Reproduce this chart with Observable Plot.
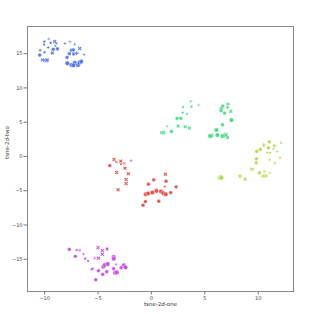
<!DOCTYPE html>
<html>
<head>
<meta charset="utf-8">
<script src="https://cdn.jsdelivr.net/npm/d3@7"></script>
<script src="https://cdn.jsdelivr.net/npm/@observablehq/plot@0.6"></script>
<style>
  html, body { margin: 0; padding: 0; background: #fff; }
</style>
</head>
<body>
<div id="chart"></div>
<script>
// ---- data ----
const groups = ["b", "g", "y", "r", "p"];
const groupColors = ["#5a7ade", "#54d98a", "#b6da55", "#dc5a55", "#c457dc"];

const blueOne = [-10.46,-10.2,-10.02,-9.83,-9.74,-10.02,-10.05,-9.61,-9.43,-9.05,-8.9,-10.42,-10.0,-9.66,-9.27,-9.2,-9.0,-8.8,-8.1,-7.62,-7.18,-7.49,-7.3,-7.68,-7.27,-6.71,-6.3,-7.9,-7.87,-7.49,-7.18,-7.3,-6.87,-6.74,-6.58,-7.0];
const blueTwo = [14.79,14.08,14.08,13.98,14.08,16.76,16.33,17.15,16.57,16.76,16.52,15.5,15.2,15.9,15.1,15.64,16.13,15.7,16.47,16.72,16.37,15.5,15.55,15.0,14.96,15.74,14.86,14.47,13.6,13.35,13.65,13.3,13.35,13.69,13.84,15.06];
const blueSize = [2,2,2,2,2,1,1,1,1,2,1,1,1,1,2,2,1,2,1,1,1,2,2,2,2,2,1,2,3,3,3,3,3,3,3,2];
const blueStyle = "oXXXXooPoXooooXoPoPPPooooXPooooooooP";

const greenOne = [3.68,3.75,4.43,2.96,2.93,3.31,2.4,2.75,1.47,2.5,3.15,3.56,1.87,0.97,1.15,6.68,7.18,6.55,7.12,7.43,6.84,6.52,7.49,6.65,6.09,5.62,6.18,6.65,6.96,7.12,5.49];
const greenTwo = [8.04,7.26,7.5,7.21,6.38,6.19,5.56,5.56,4.39,4.43,4.34,4.14,3.65,3.46,3.46,7.36,7.65,7.02,7.16,6.58,6.33,6.68,5.31,4.63,3.85,3.02,3.12,2.97,3.12,2.78,2.97];
const greenSize = [1,1,1,1,1,1,2,2,1,2,2,2,2,2,2,2,2,2,2,2,2,2,3,2,3,3,3,3,3,2,3];
const greenStyle = "PoPooXooPXXXoXXoPoPXooooooooXoo";

const yellowOne = [11.05,11.52,12.15,10.52,10.2,10.96,11.43,9.86,10.86,11.11,11.77,9.83,9.8,11.05,12.05,11.55,11.08,10.58,10.11,9.52,9.39,10.46,10.71,8.3,8.77,6.4,6.49,6.55];
const yellowTwo = [2.14,1.56,2.0,1.66,1.02,1.27,1.12,0.73,0.58,0.54,0.73,-0.34,-0.93,-0.49,-0.19,-0.97,-2.39,-2.19,-2.39,-1.85,-1.85,-2.83,-2.83,-2.88,-3.31,-3.12,-3.02,-3.12];
const yellowSize = [2,2,1,2,2,2,1,2,1,1,1,2,2,1,1,1,1,1,2,1,2,2,2,2,2,3,3,3];
const yellowStyle = "oPXPooPoPoPooPXXPXoXXXXXXooo";

const redOne = [-3.5,-3.28,-2.87,-2.53,-1.9,-3.9,-2.84,-2.47,-2.15,-3.25,-2.37,-2.37,-3.12,1.31,0.22,-0.28,1.37,1.25,2.31,-0.53,-0.31,0.09,0.47,0.9,1.12,1.34,1.81,-0.56,0.69,-0.78];
const redTwo = [-0.44,-0.83,-0.68,-1.02,-0.63,-1.32,-1.12,-1.71,-2.53,-2.34,-3.36,-3.95,-4.87,-2.58,-3.41,-4.04,-3.61,-4.39,-4.43,-5.51,-5.41,-5.26,-5.02,-5.12,-5.36,-5.51,-5.26,-6.58,-6.53,-7.11];
const redSize = [2,1,2,1,1,2,1,2,2,2,2,2,2,2,2,2,2,1,2,3,3,3,3,3,3,3,2,2,2,2];
const redStyle = "XXXXPoXXXXXXXXoooPoooooooooooo";

const purpleOne = [-7.68,-6.99,-6.71,-7.12,-6.37,-6.21,-5.93,-5.31,-5.0,-4.59,-4.59,-4.15,-4.96,-3.53,-3.53,-3.31,-5.49,-5.59,-4.96,-4.49,-4.37,-4.09,-3.53,-3.4,-3.25,-2.84,-2.59,-2.43,-4.18,-4.56,-5.21];
const purpleTwo = [-13.55,-13.65,-13.69,-14.57,-14.23,-14.91,-15.25,-14.86,-13.3,-13.74,-14.28,-13.5,-14.86,-14.67,-14.91,-15.74,-16.37,-16.47,-16.67,-16.08,-15.84,-15.69,-16.37,-16.96,-16.91,-16.23,-15.89,-16.18,-16.81,-17.2,-17.98];
const purpleSize = [2,1,1,2,1,1,1,1,2,2,2,2,2,3,3,1,1,1,2,3,3,3,2,3,3,2,3,3,2,2,2];
const purpleStyle = "ooXoPooPXXXXXooPoooooooooooooooP";

const xTicks = [-10, -5, 0, 5, 10];
const yTicks = [-15, -10, -5, 0, 5, 10, 15];

// ---- build table ----
const rows = [];
function add(group, one, two, size, style) {
  one.forEach((v, i) => rows.push({group, one: v, two: two[i], size: size[i], style: style[i]}));
}
add("b", blueOne, blueTwo, blueSize, blueStyle);
add("g", greenOne, greenTwo, greenSize, greenStyle);
add("y", yellowOne, yellowTwo, yellowSize, yellowStyle);
add("r", redOne, redTwo, redSize, redStyle);
add("p", purpleOne, purpleTwo, purpleSize, purpleStyle);

// filled X marker (seaborn "X")
const xFilled = {
  draw(ctx, size) {
    const r = Math.sqrt(size / Math.PI) * 1.15;
    const t = r * 0.32;
    const pts = [[-t,-r],[t,-r],[t,-t],[r,-t],[r,t],[t,t],[t,r],[-t,r],[-t,t],[-r,t],[-r,-t],[-t,-t]]
      .map(([x, y]) => [(x - y) / Math.SQRT2, (x + y) / Math.SQRT2]);
    ctx.moveTo(pts[0][0], pts[0][1]);
    for (let k = 1; k < pts.length; k++) ctx.lineTo(pts[k][0], pts[k][1]);
    ctx.closePath();
  }
};
// filled plus marker (seaborn "P")
const plusFilled = {
  draw(ctx, size) {
    const r = Math.sqrt(size / Math.PI) * 1.1;
    const t = r * 0.34;
    const pts = [[-t,-r],[t,-r],[t,-t],[r,-t],[r,t],[t,t],[t,r],[-t,r],[-t,t],[-r,t],[-r,-t],[-t,-t]];
    ctx.moveTo(pts[0][0], pts[0][1]);
    for (let k = 1; k < pts.length; k++) ctx.lineTo(pts[k][0], pts[k][1]);
    ctx.closePath();
  }
};

const dotOpts = (sym) => ({
  x: "one", y: "two", fill: "group", r: "size", symbol: sym,
  stroke: "white", strokeWidth: 0.4
});

const chart = Plot.plot({
  width: 314,
  height: 314,
  marginLeft: 27,
  marginRight: 21,
  marginTop: 26,
  marginBottom: 23,
  style: {fontFamily: "DejaVu Sans", background: "#fff", color: "#444"},
  x: {domain: [-11.6, 13.3]},
  y: {domain: [-19.7, 18.96]},
  r: {type: "sqrt", domain: [0, 3], range: [0, 2.3]},
  color: {domain: groups, range: groupColors},
  marks: [
    Plot.axisX({ticks: xTicks, tickSize: 3.5, tickPadding: 1.5, fontSize: 5, label: null, stroke: "#777"}),
    Plot.axisY({ticks: yTicks, tickSize: 3.5, tickPadding: 1.5, fontSize: 5, label: null, stroke: "#777"}),
    Plot.dot(rows.filter(d => d.style === "o"), dotOpts("circle")),
    Plot.dot(rows.filter(d => d.style === "X"), dotOpts(xFilled)),
    Plot.dot(rows.filter(d => d.style === "P"), dotOpts(plusFilled)),
    Plot.frame({stroke: "#888", strokeWidth: 1}),
    Plot.text(["tsne-2d-one"], {frameAnchor: "bottom", dy: 14, fontSize: 5.5, fill: "#333"}),
    Plot.text(["tsne-2d-two"], {frameAnchor: "left", dx: -20, rotate: -90, fontSize: 5.5, fill: "#333"})
  ]
});
document.getElementById("chart").appendChild(chart);
</script>
</body>
</html>
